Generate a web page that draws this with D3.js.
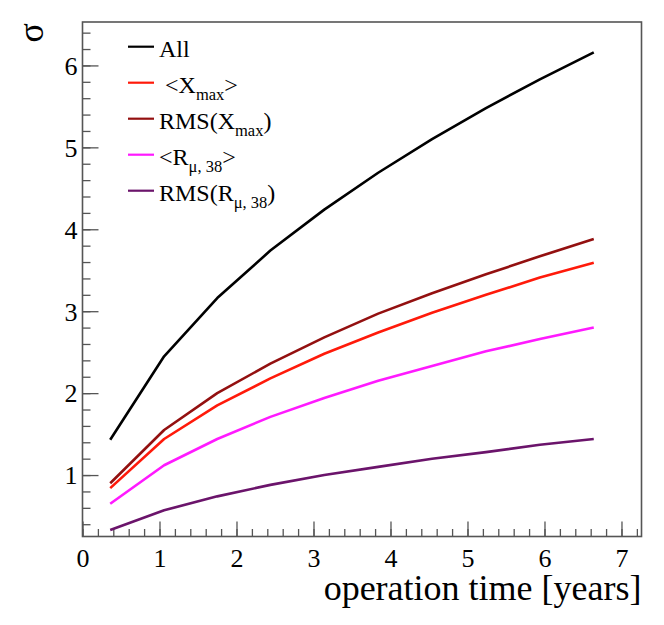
<!DOCTYPE html>
<html>
<head>
<meta charset="utf-8">
<script src="https://cdn.jsdelivr.net/npm/d3@7"></script>
<style>
  body { margin: 0; background: #fff; }
  text { font-family: "Liberation Serif", "DejaVu Serif", serif; fill: #000; }
</style>
</head>
<body>
<svg id="chart" width="664" height="625"></svg>
<script>
// operation time (years) at which each curve was evaluated
var years = [0.36, 1.06, 1.75, 2.44, 3.14, 3.84, 4.54, 5.24, 5.94, 6.64];

// sigma for each observable
var sigAll     = [1.43, 2.45, 3.16, 3.74, 4.24, 4.69, 5.10, 5.48, 5.83, 6.16];
var sigXmax    = [0.84, 1.44, 1.85, 2.18, 2.48, 2.74, 2.98, 3.20, 3.41, 3.59];
var sigRmsXmax = [0.90, 1.55, 2.00, 2.36, 2.68, 2.97, 3.22, 3.45, 3.67, 3.88];
var sigRmu     = [0.65, 1.12, 1.44, 1.71, 1.94, 2.15, 2.33, 2.51, 2.66, 2.80];
var sigRmsRmu  = [0.33, 0.57, 0.74, 0.88, 1.00, 1.10, 1.20, 1.28, 1.37, 1.44];

var xTicks = [0, 1, 2, 3, 4, 5, 6, 7];
var yTicks = [1, 2, 3, 4, 5, 6];

var series = [
  { name: "All",        vals: sigAll,     color: "#000000" },
  { name: "Xmax",       vals: sigXmax,    color: "#ff1a0a" },
  { name: "RmsXmax",    vals: sigRmsXmax, color: "#931010" },
  { name: "Rmu",        vals: sigRmu,     color: "#ff1aff" },
  { name: "RmsRmu",     vals: sigRmsRmu,  color: "#6b146b" }
];

var svg = d3.select("#chart");
var padL = 82.5, padR = 641.5, padT = 22, padB = 536.5;

var x = d3.scaleLinear().domain([0, 7.26]).range([padL, padR]);
var y = d3.scaleLinear().domain([0.25, 6.53]).range([padB, padT]);

var frameColor = "#555";

// minor ticks first, then major ticks with labels
var xMinor = d3.range(0, 7.21, 0.2);
var yMinor = d3.range(0.4, 6.51, 0.2);

svg.append("g")
  .attr("transform", "translate(0," + padB + ")")
  .call(d3.axisBottom(x).tickValues(xMinor).tickSize(-7.5).tickFormat(""))
  .call(function(g) { g.select(".domain").remove(); g.selectAll("line").attr("stroke", frameColor).attr("stroke-width", 1.3); });

svg.append("g")
  .attr("transform", "translate(0," + padB + ")")
  .call(d3.axisBottom(x).tickValues(xTicks).tickSize(-15).tickPadding(0).tickFormat(d3.format("d")))
  .call(function(g) {
    g.select(".domain").remove();
    g.selectAll("line").attr("stroke", frameColor).attr("stroke-width", 1.3);
    g.selectAll("text").attr("font-size", 26).attr("font-family", "Liberation Serif")
      .attr("dy", null).attr("y", 30).attr("fill", "#000");
  });

svg.append("g")
  .attr("transform", "translate(" + padL + ",0)")
  .call(d3.axisLeft(y).tickValues(yMinor).tickSize(-8).tickFormat(""))
  .call(function(g) { g.select(".domain").remove(); g.selectAll("line").attr("stroke", frameColor).attr("stroke-width", 1.3); });

svg.append("g")
  .attr("transform", "translate(" + padL + ",0)")
  .call(d3.axisLeft(y).tickValues(yTicks).tickSize(-16).tickPadding(5).tickFormat(d3.format("d")))
  .call(function(g) {
    g.select(".domain").remove();
    g.selectAll("line").attr("stroke", frameColor).attr("stroke-width", 1.3);
    g.selectAll("text").attr("font-size", 26).attr("font-family", "Liberation Serif")
      .attr("dy", "0.34em").attr("fill", "#000");
  });

// frame
svg.append("rect")
  .attr("x", padL).attr("y", padT)
  .attr("width", padR - padL).attr("height", padB - padT)
  .attr("fill", "none").attr("stroke", frameColor).attr("stroke-width", 1.6);

// curves
var line = d3.line()
  .x(function(d, i) { return x(years[i]); })
  .y(function(d) { return y(d); });

svg.selectAll("path.curve")
  .data(series)
  .enter().append("path")
  .attr("class", "curve")
  .attr("d", function(s) { return line(s.vals); })
  .attr("fill", "none")
  .attr("stroke", function(s) { return s.color; })
  .attr("stroke-width", 2.6)
  .attr("stroke-linejoin", "round");

// legend
var legendLabels = [
  [["All", 0]],
  [[" <X", 0], ["max", 1], [">", 0]],
  [["RMS(X", 0], ["max", 1], [")", 0]],
  [["<R", 0], ["\u03bc, 38", 1], [">", 0]],
  [["RMS(R", 0], ["\u03bc, 38", 1], [")", 0]]
];

var legend = svg.append("g");
series.forEach(function(s, i) {
  var ly = 46.7 + i * 36;
  legend.append("line")
    .attr("x1", 128).attr("x2", 154)
    .attr("y1", ly).attr("y2", ly)
    .attr("stroke", s.color).attr("stroke-width", 2.2);
  var t = legend.append("text")
    .attr("x", 159).attr("y", ly + 10)
    .attr("font-size", 24)
    .style("white-space", "pre");
  legendLabels[i].forEach(function(part, k) {
    var sp = t.append("tspan").text(part[0]);
    if (part[1]) sp.attr("font-size", 16.5).attr("dy", 7.5);
    else if (k > 0) sp.attr("dy", -7.5);
  });
});

// axis titles
svg.append("text")
  .attr("x", padR).attr("y", 600)
  .attr("text-anchor", "end")
  .attr("font-size", 36)
  .text("operation time [years]");

svg.append("text")
  .attr("transform", "translate(43,23) rotate(-90)")
  .attr("text-anchor", "end")
  .attr("font-size", 36)
  .text("\u03c3");
</script>
</body>
</html>
